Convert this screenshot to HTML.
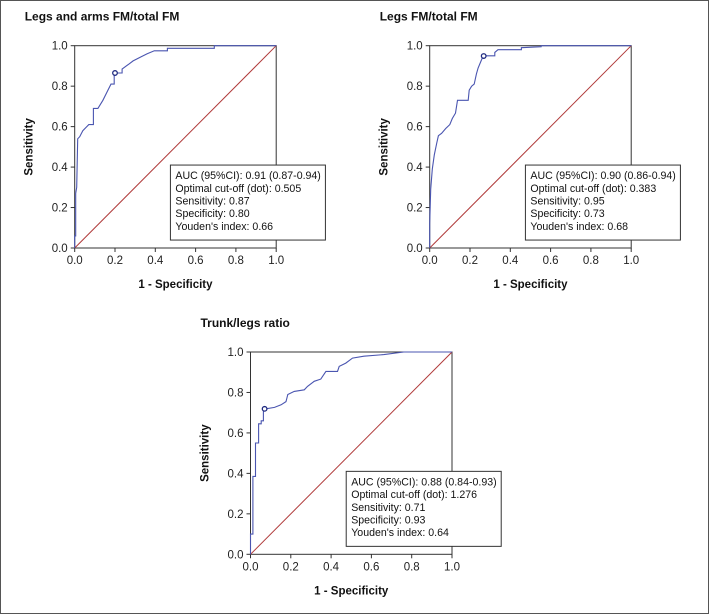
<!DOCTYPE html>
<html><head><meta charset="utf-8"><style>
body{margin:0;background:#fff}
svg{display:block;font-family:"Liberation Sans",Arial,sans-serif}
</style></head><body>
<svg id="chart" width="709" height="614" viewBox="0 0 709 614">
<rect x="0.5" y="0.5" width="708" height="613" fill="#fff" stroke="#555"/>
</svg>
<script>
const ticks=[0,0.2,0.4,0.6,0.8,1.0];
const tickLabels=["0.0","0.2","0.4","0.6","0.8","1.0"];
const titles=["Legs and arms FM/total FM","Legs FM/total FM","Trunk/legs ratio"];
const fpr1=[0,0,0.005,0.005,0.01,0.015,0.025,0.04,0.06,0.07,0.093,0.093,0.115,0.14,0.165,0.18,0.196,0.196,0.235,0.235,0.27,0.29,0.33,0.36,0.395,0.46,0.46,0.693,0.693,1];
const tpr1=[0,0.06,0.06,0.27,0.30,0.54,0.55,0.58,0.60,0.61,0.61,0.69,0.69,0.73,0.78,0.81,0.81,0.865,0.865,0.885,0.91,0.925,0.945,0.96,0.975,0.975,0.987,0.987,1,1];
const fpr2=[0,0,0.005,0.013,0.023,0.035,0.043,0.059,0.079,0.1,0.112,0.128,0.138,0.191,0.196,0.208,0.221,0.232,0.24,0.257,0.265,0.323,0.323,0.339,0.455,0.455,0.553,0.553,1];
const tpr2=[0,0.12,0.29,0.39,0.46,0.52,0.555,0.567,0.59,0.61,0.64,0.667,0.73,0.73,0.78,0.80,0.81,0.86,0.89,0.93,0.95,0.95,0.967,0.98,0.98,0.99,0.995,1,1];
const fpr3=[0,0,0.012,0.012,0.025,0.025,0.04,0.04,0.053,0.053,0.064,0.064,0.077,0.119,0.152,0.176,0.185,0.217,0.267,0.283,0.316,0.349,0.374,0.432,0.44,0.473,0.506,0.563,0.662,0.761,1];
const tpr3=[0,0.1,0.1,0.385,0.385,0.55,0.55,0.645,0.645,0.66,0.66,0.719,0.719,0.726,0.739,0.755,0.79,0.805,0.813,0.83,0.855,0.866,0.904,0.904,0.929,0.945,0.97,0.979,0.987,1,1];
const dotX=[0.2,0.268,0.07];
const dotY=[0.865,0.949,0.719];
const legends=[
["AUC (95%CI): 0.91 (0.87-0.94)","Optimal cut-off (dot): 0.505","Sensitivity: 0.87","Specificity: 0.80","Youden's index: 0.66"],
["AUC (95%CI): 0.90 (0.86-0.94)","Optimal cut-off (dot): 0.383","Sensitivity: 0.95","Specificity: 0.73","Youden's index: 0.68"],
["AUC (95%CI): 0.88 (0.84-0.93)","Optimal cut-off (dot): 1.276","Sensitivity: 0.71","Specificity: 0.93","Youden's index: 0.64"]];
const panels=[{x:74.7,y:45.7,fx:fpr1,ty:tpr1},{x:429.7,y:45.7,fx:fpr2,ty:tpr2},{x:250.5,y:352,fx:fpr3,ty:tpr3}];
const W=201.5,H=202.3;
const svg=document.getElementById('chart');
const NS='http://www.w3.org/2000/svg';
function mk(t,a,p){const e=document.createElementNS(NS,t);for(const k in a)e.setAttribute(k,a[k]);(p||svg).appendChild(e);return e;}
panels.forEach((p,i)=>{
  const g=mk('g',{});
  
  
  const sx=v=>p.x+v*W, sy=v=>p.y+H-v*H;
  const t=mk('text',{x:p.x-50,y:p.y-25,'font-size':12,'font-weight':'bold',fill:'#111'},g);t.textContent=titles[i];
  
  
  const fr=mk('rect',{x:p.x,y:p.y,width:W,height:H,fill:'none',stroke:'#333','stroke-width':1},g);
  
  
  ticks.forEach((v,k)=>{
    mk('line',{x1:sx(v),x2:sx(v),y1:p.y+H,y2:p.y+H+4,stroke:'#333'},g);
    mk('line',{x1:p.x-4,x2:p.x,y1:sy(v),y2:sy(v),stroke:'#333'},g);
    const xl=mk('text',{x:sx(v),y:p.y+H+16,'font-size':11.5,'text-anchor':'middle',fill:'#222'},g);xl.textContent=tickLabels[k];
    
    
    const yl=mk('text',{x:p.x-7,y:sy(v)+4,'font-size':11.5,'text-anchor':'end',fill:'#222'},g);yl.textContent=tickLabels[k];
    
    
  });
  const xt=mk('text',{x:sx(0.5),y:p.y+H+40,'font-size':11.5,'font-weight':'bold','text-anchor':'middle',fill:'#111'},g);xt.textContent='1 - Specificity';
  
  
  const yt=mk('text',{x:0,y:0,'font-size':11.5,'font-weight':'bold','text-anchor':'middle',fill:'#111',transform:`translate(${p.x-42},${sy(0.5)}) rotate(-90)`},g);yt.textContent='Sensitivity';
  
  
  const d=mk('line',{x1:sx(0),y1:sy(0),x2:sx(1),y2:sy(1),stroke:'#b03a3a','stroke-width':1},g);
  
  
  const pts=p.fx.map((v,k)=>sx(v).toFixed(1)+','+sy(p.ty[k]).toFixed(1)).join(' ');
  const c=mk('polyline',{points:pts,fill:'none',stroke:'#4a55b0','stroke-width':1.1},g);
  
  
  const dot=mk('circle',{cx:sx(dotX[i]),cy:sy(dotY[i]),r:2.3,fill:'#fff',stroke:'#1f2a80','stroke-width':1.3},g);
  
  
  const lx=sx(0.475),ly=sy(0.41);
  const lb=mk('rect',{x:lx,y:ly,width:155,height:75,fill:'#fff',stroke:'#333'},g);
  
  
  legends[i].forEach((s,k)=>{
    const lt=mk('text',{x:lx+5,y:ly+14+k*12.7,'font-size':10.6,fill:'#111'},g);lt.textContent=s;
    
    
  });
});
</script>
</body></html>
